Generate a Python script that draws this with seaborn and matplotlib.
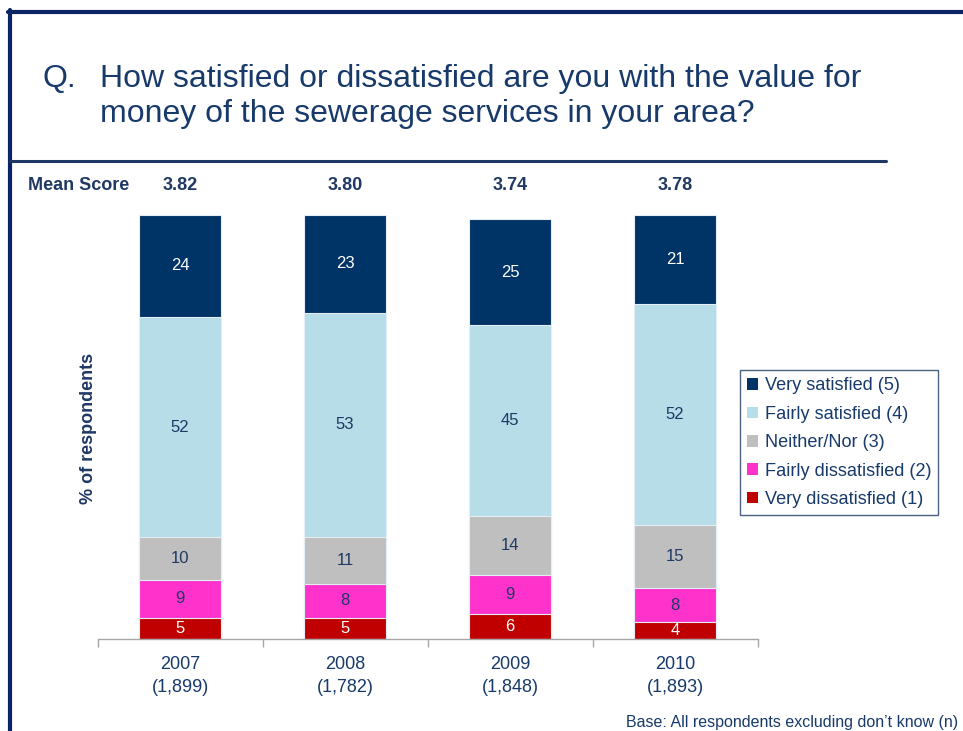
import matplotlib
matplotlib.use("Agg")
import matplotlib.pyplot as plt
from matplotlib.lines import Line2D
from matplotlib.patches import Patch
import numpy as np
import pandas as pd
import seaborn as sns

# Survey results (% of respondents), bottom-to-top order of the stack
years = ["2007", "2008", "2009", "2010"]
base_n = ["1,899", "1,782", "1,848", "1,893"]
mean_scores = ["3.82", "3.80", "3.74", "3.78"]

very_dissatisfied = [5, 5, 6, 4]
fairly_dissatisfied = [9, 8, 9, 8]
neither_nor = [10, 11, 14, 15]
fairly_satisfied = [52, 53, 45, 52]
very_satisfied = [24, 23, 25, 21]

levels = ["Very dissatisfied (1)", "Fairly dissatisfied (2)", "Neither/Nor (3)",
          "Fairly satisfied (4)", "Very satisfied (5)"]
series = [very_dissatisfied, fairly_dissatisfied, neither_nor,
          fairly_satisfied, very_satisfied]
colors = ["#c00000", "#ff33cc", "#bfbfbf", "#b7dde8", "#003366"]
label_colors = ["white", "#1f3864", "#1f3864", "#1f3864", "white"]

NAVY = "#1f3864"
TEXT = "#173a6b"

sns.set_theme(style="white")
plt.rcParams["font.family"] = ["Liberation Sans", "DejaVu Sans"]

W, H = 963, 731
fig = plt.figure(figsize=(W / 100, H / 100), dpi=100)

def fx(px):
    return px / W

def fy(py):
    return 1 - py / H

ax = fig.add_axes([fx(97.5), fy(639), fx(757.5) - fx(97.5), fy(215) - fy(639)])

df = pd.DataFrame({"year": years})
for name, vals in zip(levels, series):
    df[name] = vals
cum = df[levels].cumsum(axis=1)

# Stacked bars: draw cumulative totals from the top level down
for i in range(len(levels) - 1, -1, -1):
    sns.barplot(x=df["year"], y=cum[levels[i]], color=colors[i], width=0.5,
                saturation=1, edgecolor="#e6eef5", linewidth=0.8, ax=ax)

# Segment value labels
for j in range(len(years)):
    lower = 0
    for i, name in enumerate(levels):
        v = df.loc[j, name]
        ax.text(j, lower + v / 2, f"{v}", ha="center", va="center",
                fontsize=12, color=label_colors[i])
        lower += v

ax.set_xlim(-0.5, 3.5)
ax.set_ylim(0, 100)
ax.set_xlabel("")
ax.set_ylabel("")
ax.set_yticks([])
ax.set_xticks(range(len(years)))
ax.set_xticklabels([f"{y}\n({n})" for y, n in zip(years, base_n)],
                   fontsize=13, color=TEXT, linespacing=1.45)
ax.set_xticks(np.arange(-0.5, 4.0, 1.0), minor=True)
ax.tick_params(axis="x", which="major", length=0, pad=12)
ax.tick_params(axis="x", which="minor", length=6, width=1, color="#a6a6a6",
               direction="out", bottom=True)
for s in ["top", "right", "left"]:
    ax.spines[s].set_visible(False)
ax.spines["bottom"].set_color("#a6a6a6")
ax.spines["bottom"].set_linewidth(1)

# Mean score row
fig.text(fx(28), fy(185), "Mean Score", fontsize=13, fontweight="bold",
         color=NAVY, va="center", ha="left")
for j, m in enumerate(mean_scores):
    xd = ax.transData.transform((j, 0))[0] / W
    fig.text(xd, fy(185), m, fontsize=13, fontweight="bold", color=NAVY,
             va="center", ha="center")

# Y-axis caption
fig.text(fx(88), fy(428), "% of respondents", rotation=90, fontsize=13,
         fontweight="bold", color=NAVY, ha="center", va="center")

# Question title
fig.text(fx(42), fy(87), "Q.", fontsize=23, color=TEXT, ha="left", va="baseline")
fig.text(fx(100), fy(87), "How satisfied or dissatisfied are you with the value for",
         fontsize=23, color=TEXT, ha="left", va="baseline")
fig.text(fx(100), fy(122), "money of the sewerage services in your area?",
         fontsize=23, color=TEXT, ha="left", va="baseline")

# Slide frame and title rule
fig.add_artist(Line2D([fx(8), 1.0], [fy(12), fy(12)], color="#0b2466", lw=3))
fig.add_artist(Line2D([fx(10), fx(10)], [fy(10), 0.0], color="#0b2466", lw=3))
fig.add_artist(Line2D([fx(10), fx(886)], [fy(161), fy(161)], color=NAVY, lw=2.2))

# Legend (top level first)
handles = [Patch(facecolor=colors[i], edgecolor="none") for i in range(len(levels) - 1, -1, -1)]
labels = [levels[i] for i in range(len(levels) - 1, -1, -1)]
leg = fig.legend(handles, labels, loc="upper left",
                 bbox_to_anchor=(fx(740), fy(370)), fontsize=13.1,
                 frameon=True, fancybox=False, handlelength=0.6,
                 handleheight=0.6, handletextpad=0.35, labelspacing=0.63,
                 borderpad=0.4, borderaxespad=0)
leg.get_frame().set_edgecolor(NAVY)
leg.get_frame().set_linewidth(1)
for t in leg.get_texts():
    t.set_color(TEXT)

# Footnote
fig.text(fx(958), fy(727), "Base: All respondents excluding don\u2019t know (n)",
         fontsize=11.5, color=TEXT, ha="right", va="baseline")

fig.savefig("out.png", dpi=100)
